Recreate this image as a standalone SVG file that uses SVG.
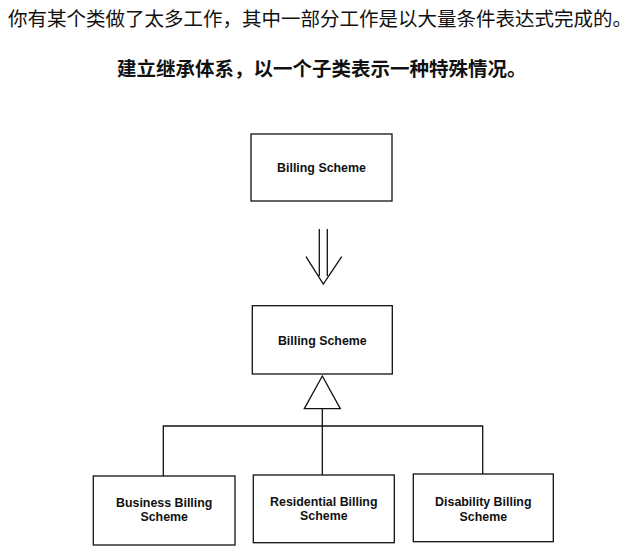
<svg xmlns="http://www.w3.org/2000/svg" width="632" height="555" viewBox="0 0 632 555">
<style>
.box{fill:#fff;stroke:#111;stroke-width:1.3}
.lbl{font-family:"Liberation Sans",Arial,sans-serif;font-weight:bold;font-size:12.4px;fill:#111;text-anchor:middle}
.cn{font-family:"Noto Sans CJK SC",sans-serif;font-size:19.5px;fill:#111}
.ln{fill:none;stroke:#111;stroke-width:1.3}
</style>
<rect width="632" height="555" fill="#fff"/>
<text class="cn" x="8" y="26">你有某个类做了太多工作，其中一部分工作是以大量条件表达式完成的。</text>
<text class="cn" x="117" y="75.5" font-weight="bold">建立继承体系，以一个子类表示一种特殊情况。</text>
<g id="old">
<rect class="box" x="251" y="134" width="141" height="67"/>
<text class="lbl" x="321.5" y="172">Billing Scheme</text>
</g>
<g id="refactor-arrow">
<path class="ln" d="M319.3 229V276M327.3 229V276M306 256.7L323.3 284L341.7 256.7" stroke-width="1.6"/>
</g>
<g id="base">
<rect class="box" x="252.3" y="305.7" width="140" height="68.3"/>
<text class="lbl" x="322.3" y="345">Billing Scheme</text>
</g>
<g id="connectors">
<path class="ln" d="M322.3 376L340.3 408.7H304.3Z"/>
<path class="ln" d="M322.3 408.7V475M163.3 476V426H482.7V474"/>
</g>
<g id="business">
<rect class="box" x="93.3" y="476" width="141.7" height="69"/>
<text class="lbl" x="164.2" y="506.5">Business Billing</text>
<text class="lbl" x="164.2" y="521.2">Scheme</text>
</g>
<g id="residential">
<rect class="box" x="253.3" y="475" width="141" height="67.7"/>
<text class="lbl" x="323.8" y="505.5">Residential Billing</text>
<text class="lbl" x="323.8" y="520.2">Scheme</text>
</g>
<g id="disability">
<rect class="box" x="413.3" y="474" width="140" height="67.7"/>
<text class="lbl" x="483.3" y="506.2">Disability Billing</text>
<text class="lbl" x="483.3" y="520.5">Scheme</text>
</g>
</svg>
